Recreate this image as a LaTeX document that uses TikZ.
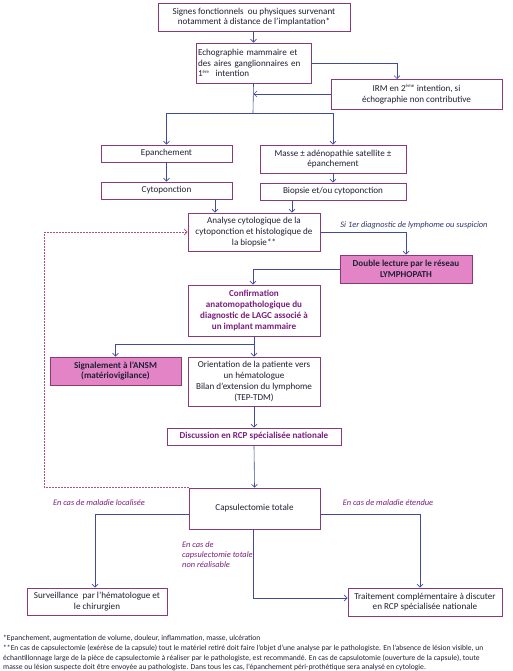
\documentclass[tikz,border=0pt]{standalone}
\usepackage{fontspec}
\setmainfont{Carlito}
\usetikzlibrary{arrows.meta}
\definecolor{boxc}{HTML}{8A3A76}
\definecolor{arrc}{HTML}{3F4C9A}
\definecolor{pinkf}{HTML}{E384C6}
\definecolor{purt}{HTML}{7A1E7E}
\definecolor{txt}{HTML}{202035}
\definecolor{dashc}{HTML}{B0507E}
\newcommand{\sups}[1]{\textsuperscript{\fontsize{4.8}{4.8}\selectfont #1}}
\tikzset{
  bx/.style={draw=boxc, line width=0.9pt, fill=white, inner sep=1pt, align=center,
    font=\fontsize{9.1}{10.8}\selectfont, text=txt},
  pbx/.style={bx, fill=pinkf, font=\fontsize{9.1}{10.8}\selectfont\bfseries},
  ptx/.style={bx, font=\fontsize{9.1}{10.8}\selectfont\bfseries, text=purt},
  arr/.style={draw=arrc, line width=0.6pt, -{Straight Barb[length=3pt,width=6pt]}},
  ln/.style={draw=arrc, line width=0.6pt},
  darr/.style={draw=dashc, line width=0.7pt, dash pattern=on 1.6pt off 1.4pt, -{Straight Barb[length=3pt,width=6pt]}},
  lbl/.style={font=\fontsize{8.4}{10}\selectfont\itshape, text=purt, inner sep=0pt},
  foot/.style={font=\fontsize{7.6}{9}\selectfont, text=txt, inner sep=0pt, anchor=west}
}
\begin{document}
\begin{tikzpicture}[x=1pt,y=-1pt]
\useasboundingbox (0,0) rectangle (512,671);
\node[bx, minimum width=192pt, minimum height=28pt] (b1) at (254,17) {Signes fonctionnels\ \ ou physiques survenant\\notamment à distance de l’implantation*};
\node[bx, minimum width=115pt, minimum height=40pt, text width=111pt, align=left] (b2) at (253.5,63) {Echographie mammaire et\\des aires ganglionnaires en\\1\sups{ère}\ \ intention};
\node[bx, minimum width=171pt, minimum height=30pt] (irm) at (416.5,94) {IRM en 2\sups{ème}\ intention, si\\échographie non contributive};
\node[bx, minimum width=131pt, minimum height=17pt] (epan) at (166.5,153.5) {Epanchement};
\node[bx, minimum width=146pt, minimum height=28pt] (masse) at (333,159) {Masse ± adénopathie satellite ±\\épanchement};
\node[bx, minimum width=131pt, minimum height=17pt] (cyto) at (166.5,190.5) {Cytoponction};
\node[bx, minimum width=146pt, minimum height=17pt] (biop) at (333,191.5) {Biopsie et/ou cytoponction};
\node[bx, minimum width=132pt, minimum height=38pt] (anal) at (254,232) {Analyse cytologique de la\\cytoponction et histologique de\\la biopsie**};
\node[pbx, minimum width=132pt, minimum height=28pt] (dbl) at (406,269) {Double lecture par le réseau\\LYMPHOPATH};
\node[ptx, minimum width=132pt, minimum height=51pt] (conf) at (254,310.5) {Confirmation\\anatomopathologique du\\diagnostic de LAGC associé à\\un implant mammaire};
\node[pbx, minimum width=131pt, minimum height=28pt] (sig) at (115.5,371) {Signalement à l’ANSM\\(matériovigilance)};
\node[bx, minimum width=132pt, minimum height=49pt] (orient) at (254,381.5) {Orientation de la patiente vers\\un hématologue\\Bilan d’extension du lymphome\\(TEP-TDM)};
\node[ptx, minimum width=174pt, minimum height=17pt] (disc) at (254,436.5) {Discussion en RCP spécialisée nationale};
\node[bx, minimum width=131pt, minimum height=41pt] (caps) at (254.5,508.5) {Capsulectomie totale};
\node[bx, minimum width=140pt, minimum height=27pt] (surv) at (97,601.5) {Surveillance\ \ par l’hématologue et\\le chirurgien};
\node[bx, minimum width=154pt, minimum height=28pt] (trait) at (425,602) {Traitement complémentaire à discuter\\en RCP spécialisée nationale};
% connectors
\coordinate (irmin) at (397,79);
\coordinate (j1) at (253,113);
\draw[arr] (b1.south -| b2.south) -- (b2.north);
\draw[arr] (b2.east) -| (irmin);
\draw[ln] (b2.south) -- (j1);
\draw[arr] (irm.west) -- (irm.west -| b2.south);
\draw[arr] (j1) -| (epan.north);
\draw[arr] (j1) -| (masse.north);
\draw[arr] (epan.south) -- (cyto.north);
\draw[arr] (masse.south) -- (biop.north);
\draw[arr] ([xshift=-39pt]anal.north |- cyto.south) -- ([xshift=-39pt]anal.north);
\draw[arr] ([xshift=38pt]anal.north |- biop.south) -- ([xshift=38pt]anal.north);
\draw[arr] (anal.east) -| (dbl.north);
\node[lbl, text=arrc!70!black] (l1) at (414,225) {Si 1er diagnostic de lymphome ou suspicion};
\draw[arr] (dbl.west) -| ([xshift=-1pt]conf.north);
\draw[arr] (conf.south) -- (orient.north);
\draw[arr] ([yshift=-8pt]conf.south) -| (sig.north);
\draw[arr] (orient.south) -- (disc.north);
\draw[arr] (disc.south) -- (caps.north);
\draw[darr] (caps.north west) -| ([xshift=-143pt]anal.west) -- (anal.west);
\draw[arr] ([yshift=-5.5pt]caps.west) -| ([xshift=-2pt]surv.north);
\draw[arr] ([yshift=-5.5pt]caps.east) -| ([xshift=-5pt]trait.north);
\draw[arr] ([xshift=-1.5pt]caps.south) |- ([yshift=4pt]trait.west);
\node[lbl] (l2) at (99,503) {En cas de maladie localisée};
\node[lbl] (l3) at (388,503) {En cas de maladie étendue};
\node[lbl, align=left, anchor=west] (l4) at (182,555) {En cas de\\capsulectomie totale\\non réalisable};
% footnotes
\node[foot] (f1) at (3,638) {*Epanchement, augmentation de volume, douleur, inflammation, masse, ulcération};
\node[foot] (f2) at (3,648) {**En cas de capsulectomie (exérèse de la capsule) tout le matériel retiré doit faire l’objet d’une analyse par le pathologiste. En l’absence de lésion visible, un};
\node[foot] (f3) at (3,658) {échantillonnage large de la pièce de capsulectomie à réaliser par le pathologiste, est recommandé. En cas de capsulotomie (ouverture de la capsule), toute};
\node[foot] (f4) at (3,667.5) {masse ou lésion suspecte doit être envoyée au pathologiste. Dans tous les cas, l’épanchement péri-prothétique sera analysé en cytologie.};
\end{tikzpicture}
\end{document}
